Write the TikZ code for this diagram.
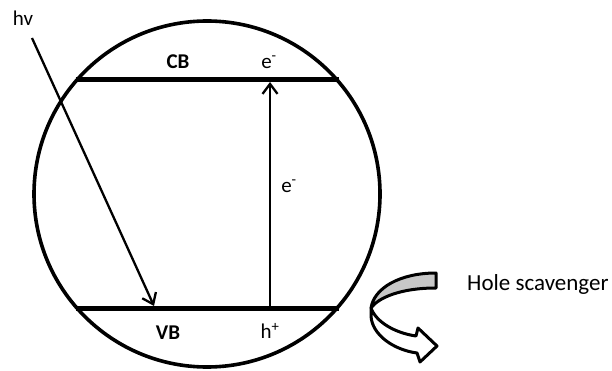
\documentclass[tikz,border=0pt]{standalone}
\usepackage{fontspec}
\setmainfont{Carlito}
\usetikzlibrary{arrows.meta}
\begin{document}
\begin{tikzpicture}[x=1pt,y=-1pt,
  band/.style={line width=5pt},
  ray/.style={line width=2.3pt,-{Straight Barb[length=10pt,width=15pt,line width=2.3pt]}},
  lbl/.style={font=\fontsize{21}{24}\selectfont, inner sep=0pt},
  blbl/.style={font=\fontsize{21}{24}\selectfont\bfseries, inner sep=0pt},
  curl/.style={line width=3pt, line join=round}]
\useasboundingbox (0,0) rectangle (612,371);
\node[circle, draw, line width=3.6pt, minimum size=346pt, inner sep=0pt, outer sep=0pt] (particle) at (207,194) {};
% band edges
\coordinate (cbL) at (75.5,80);
\coordinate (cbR) at (338.5,80);
\coordinate (vbL) at (75.5,308);
\coordinate (vbR) at (338.5,308);
\draw[band] (cbL) -- (cbR);
\draw[band] (vbL) -- (vbR);
% labels
\node[blbl] (cb) at (178,62) {CB};
\node[lbl] (etop) at (269,62) {e\textsuperscript{-}};
\node[lbl] (emid) at (289,186) {e\textsuperscript{-}};
\node[blbl] (vb) at (168,333) {VB};
\node[lbl] (hp) at (270,331) {h\textsuperscript{+}};
\node[lbl] (hv) at (23,18) {hv};
\node[lbl, anchor=west, font=\fontsize{23}{26}\selectfont] (hs) at (467,284) {Hole scavenger};
% arrows
\coordinate (hvstart) at (32,38);
\coordinate (hvend) at (154,306);
\draw[ray] (hvstart) -- (hvend);
\coordinate (exbot) at (270,306);
\coordinate (extop) at (270,82);
\draw[ray] (exbot) -- (extop);
% curved arrow: grey upper band
\draw[curl, fill=black!22]
  (436,273) .. controls (400,273) and (374,288) .. (371,308)
  .. controls (378,298) and (400,288) .. (436,288) -- cycle;
% white lower band with arrowhead
\draw[curl, fill=white]
  (371,308) .. controls (376,322) and (395,333) .. (416,336)
  -- (418,328) -- (437,346) -- (420,362) -- (417,353)
  .. controls (394,350) and (372,335) .. (371,316) -- cycle;
\end{tikzpicture}
\end{document}
